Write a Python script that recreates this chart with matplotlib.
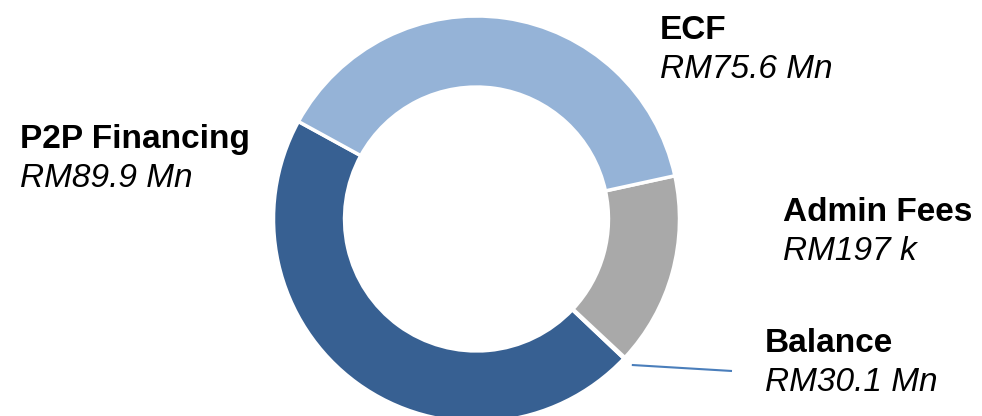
import numpy as np
import matplotlib
matplotlib.use('Agg')
import matplotlib.pyplot as plt

# Data (RM Mn)
segments = ['P2P Financing', 'Admin Fees', 'Balance', 'ECF']
values = [89.9, 0.197, 30.1, 75.6]
colors = ['#376092', '#376092', '#A9A9A9', '#95B3D7']

# Label text as shown in the chart
label_names = ['P2P Financing', 'ECF', 'Admin Fees', 'Balance']
label_values = ['RM89.9 Mn', 'RM75.6 Mn', 'RM197 k', 'RM30.1 Mn']
label_pos = [(20, 268), (660, 377), (783, 195), (765, 64)]  # (x, baseline y) in pixels

W, H = 982, 416
fig = plt.figure(figsize=(W / 100, H / 100), dpi=100)
ax = fig.add_axes([0, 0, 1, 1])

cx, cy, R = 476.5, 197, 203
wedges, _ = ax.pie(values, colors=colors, startangle=151.3, counterclock=True,
                   center=(cx, cy), radius=R, frame=True,
                   wedgeprops=dict(width=R * 0.35, edgecolor='white', linewidth=2.5))
ax.set_xlim(0, W)
ax.set_ylim(0, H)
ax.set_aspect('equal')
ax.axis('off')

# leader line to the small slice
w = wedges[1]
ang = np.deg2rad((w.theta1 + w.theta2) / 2)
x0, y0 = cx + 1.05 * R * np.cos(ang), cy + 1.05 * R * np.sin(ang)
ax.plot([x0, 732], [y0, 45], color='#4A7EBB', lw=1.5, solid_capstyle='butt')

for name, val, (x, y) in zip(label_names, label_values, label_pos):
    ax.text(x, y, name, fontsize=24, fontweight='bold', family='Liberation Sans',
            ha='left', va='baseline')
    ax.text(x, y - 39, val, fontsize=24, fontstyle='italic', family='Liberation Sans',
            ha='left', va='baseline')

plt.savefig('out.png', dpi=100)
